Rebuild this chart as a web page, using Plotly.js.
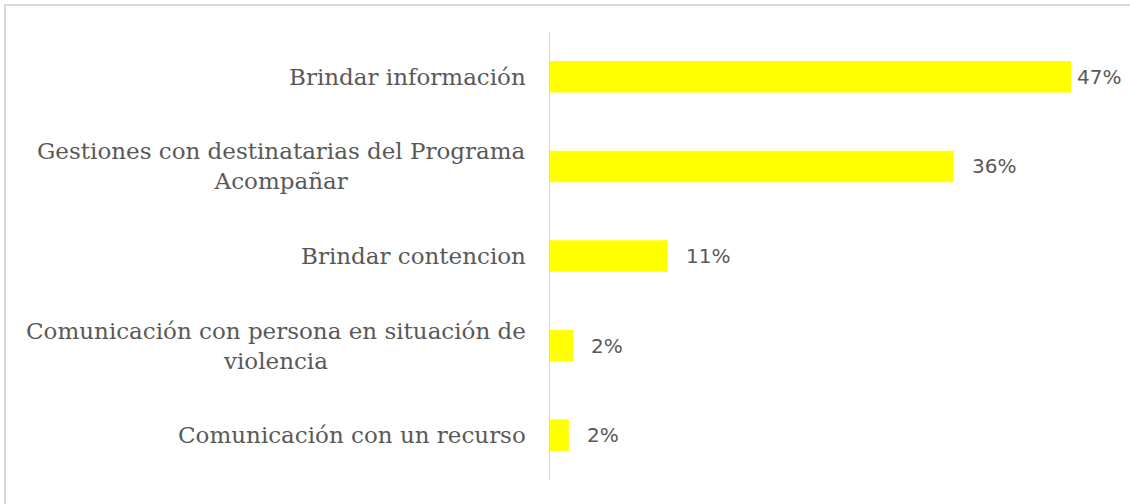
<!DOCTYPE html>
<html>
<head>
<meta charset="utf-8">
<script src="https://cdn.plot.ly/plotly-3.0.1.min.js"></script>
<style>
  html, body { margin: 0; padding: 0; background: #fff; overflow: hidden; }
  #wrap { position: relative; width: 1130px; height: 504px; }
  #chart { position: absolute; left: 0; top: 0; width: 1130px; height: 504px; }
  #frame { position: absolute; left: 4px; top: 4px; width: 1140px; height: 520px;
           border-left: 2px solid #d9d9d9; border-top: 2px solid #d9d9d9; pointer-events: none; }
</style>
</head>
<body>
<div id="wrap">
  <div id="chart"></div>
  <div id="frame"></div>
</div>
<script>
const categories = [
  "Brindar información",
  "Gestiones con destinatarias del Programa<br>Acompañar",
  "Brindar contencion",
  "Comunicación con persona en situación de<br>violencia",
  "Comunicación con un recurso"
];
const values = [47.0, 36.4, 10.6, 2.1, 1.7];
const valueLabels = values.map(v => Math.round(v) + "%");

const textColor = "#595959";

const trace = {
  type: "bar",
  orientation: "h",
  y: categories,
  x: values,
  marker: { color: "#ffff00" },
  hoverinfo: "skip"
};

const annotations = [];
categories.forEach((c, i) => {
  annotations.push({
    xref: "paper", yref: "y", x: 0, y: c,
    xanchor: "right", yanchor: "middle", xshift: -22,
    text: c, showarrow: false, align: "center",
    font: { family: "DejaVu Serif", size: 23, color: textColor }
  });
  annotations.push({
    xref: "x", yref: "y", x: values[i], y: c,
    xanchor: "left", yanchor: "middle", xshift: i === 0 ? 4 : 16,
    text: valueLabels[i], showarrow: false,
    font: { family: "DejaVu Sans", size: 20, color: textColor }
  });
});

const layout = {
  width: 1130, height: 504,
  margin: { l: 550, r: 20, t: 32, b: 24, pad: 0 },
  paper_bgcolor: "#ffffff",
  plot_bgcolor: "#ffffff",
  showlegend: false,
  bargap: 0.648,
  xaxis: { range: [0, 50.5], visible: false, fixedrange: true },
  yaxis: {
    autorange: "reversed",
    showticklabels: false,
    ticks: "",
    showgrid: false,
    zeroline: false,
    showline: true,
    linecolor: "#d9d9d9",
    linewidth: 1.5,
    fixedrange: true
  },
  annotations: annotations
};

Plotly.newPlot("chart", [trace], layout, { displayModeBar: false, staticPlot: true });
</script>
</body>
</html>
